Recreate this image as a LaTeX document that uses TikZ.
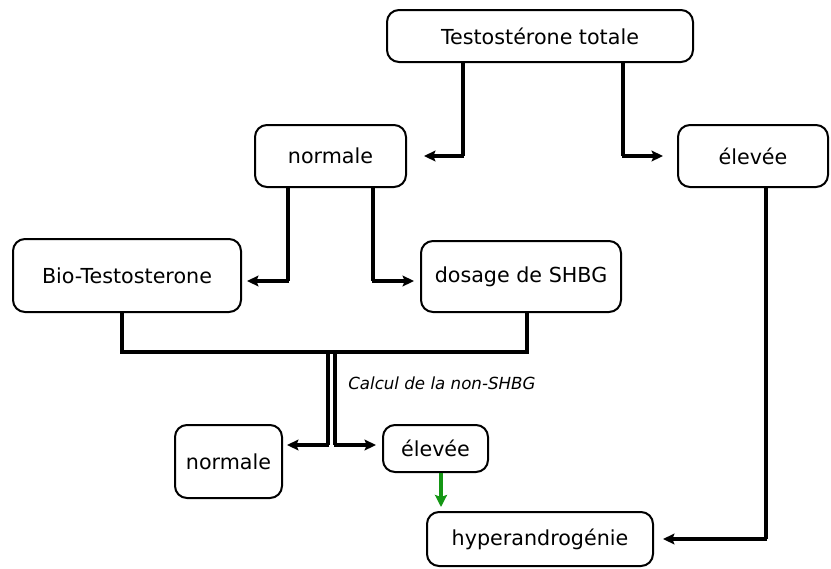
\documentclass[tikz,border=0pt]{standalone}
\usepackage{fontspec}
\setmainfont{DejaVu Sans}
\usetikzlibrary{arrows.meta}
\begin{document}
\begin{tikzpicture}[x=0.75pt,y=-0.75pt,
  box/.style={draw, line width=1.5pt, rounded corners=9pt, inner sep=0pt, font=\fontsize{15.5}{18}\selectfont},
  trunk/.style={line width=3pt},
  branch/.style={line width=2.4pt, -{Stealth[length=8.5pt,width=8pt,inset=1.5pt]}},
  green arrow/.style={line width=2.8pt, draw={rgb,255:red,20;green,150;blue,20}, -{Stealth[length=9pt,width=9pt,inset=1.5pt]}}]
\useasboundingbox (0,0) rectangle (831,568);
\node[box, minimum width=306*0.75pt, minimum height=52*0.75pt] (tt) at (540,36) {Testostérone totale};
\node[box, minimum width=151*0.75pt, minimum height=62*0.75pt] (n1) at (330.5,156) {normale};
\node[box, minimum width=150*0.75pt, minimum height=62*0.75pt] (e1) at (753,156) {élevée};
\node[box, minimum width=228*0.75pt, minimum height=73*0.75pt] (bio) at (127,275.5) {Bio-Testosterone};
\node[box, minimum width=200*0.75pt, minimum height=71*0.75pt] (shbg) at (521,276.5) {dosage de SHBG};
\node[box, minimum width=107*0.75pt, minimum height=73*0.75pt] (n2) at (228.5,461.5) {normale};
\node[box, minimum width=105*0.75pt, minimum height=47*0.75pt] (e2) at (435.5,448.5) {élevée};
\node[box, minimum width=226*0.75pt, minimum height=54*0.75pt] (hy) at (540,539) {hyperandrogénie};
\node[font=\fontsize{12.5}{14}\selectfont\itshape, anchor=west, inner sep=0pt] (calc) at (348,383) {Calcul de la non-SHBG};

\coordinate (a1) at (424,156);
\coordinate (a2) at (663,156);
\coordinate (a3) at (247,281);
\coordinate (a4) at (414,281);
\coordinate (a5) at (663,539);
\coordinate (a6) at (287,445);
\coordinate (a7) at (376,445);
\coordinate (j1) at (122,352);
\coordinate (j2) at (527,352);

\draw[trunk] (tt.south -| 463,0) -- (463,156);
\draw[branch] (464.1,156) -- (a1);
\draw[trunk] (tt.south -| 623,0) -- (623,156);
\draw[branch] (621.9,156) -- (a2);
\draw[trunk] (n1.south -| 288,0) -- (288,281);
\draw[branch] (289.1,281) -- (a3);
\draw[trunk] (n1.south -| 373,0) -- (373,281);
\draw[branch] (371.9,281) -- (a4);
\draw[trunk] (e1.south -| 766,0) -- (766,539);
\draw[branch] (767.1,539) -- (a5);
\draw[trunk] (bio.south -| j1) -- (j1) -- (j2) -- (shbg.south -| j2);
\draw[trunk] (328,352) -- (328,445);
\draw[trunk] (335,352) -- (335,445);
\draw[branch] (329.1,445) -- (a6);
\draw[branch] (333.9,445) -- (a7);
\draw[green arrow] (e2.south -| 441,0) -- (441,507);
\end{tikzpicture}
\end{document}
